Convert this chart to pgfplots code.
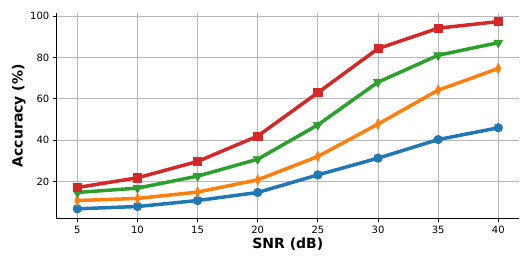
\documentclass[border=0pt]{standalone}
\usepackage{pgfplots}
\pgfplotsset{compat=1.18}
\usepackage{fontspec}
\setmainfont{DejaVu Sans}
\definecolor{tabblue}{HTML}{1F77B4}
\definecolor{taborange}{HTML}{FF7F0E}
\definecolor{tabgreen}{HTML}{2CA02C}
\definecolor{tabred}{HTML}{D62728}
\begin{document}
\begin{tikzpicture}[x=1pt,y=1pt]
\useasboundingbox (0,0) rectangle (532,266);
\begin{axis}[
  at={(56.3pt,47.3pt)}, anchor=south west,
  scale only axis, width=463pt, height=206pt,
  xmin=3.25, xmax=41.75, ymin=2, ymax=101.7,
  axis x line*=bottom, axis y line*=left,
  axis line style={line width=0.9pt, -},
  xtick={5,10,15,20,25,30,35,40},
  ytick={20,40,60,80,100},
  tick align=outside, major tick length=3.5pt,
  tick style={line width=0.9pt, black},
  grid=major,
  major grid style={color=black!28, line width=0.9pt},
  /pgf/number format/assume math mode=true,
  ticklabel style={font=\fontsize{10}{12}\selectfont},
  xlabel={SNR (dB)}, ylabel={Accuracy (\%)},
  label style={font=\fontsize{14}{16}\selectfont\bfseries},
  xlabel style={at={(axis description cs:0.5,0)}, anchor=north, yshift=-16pt},
  ylabel style={at={(axis description cs:0,0.5)}, anchor=south, yshift=27pt},
  every axis plot/.append style={line width=3.5pt, line join=round},
]
\addplot[color=tabblue, mark=*, mark size=4.3pt, mark options={line width=0.6pt}] coordinates {
(5,6.8) (10,7.9) (15,10.8) (20,14.7) (25,23.2) (30,31.3) (35,40.3) (40,46.0)};
\addplot[color=taborange, mark=diamond*, mark size=5.5pt, mark options={xscale=0.62, line width=0.6pt}] coordinates {
(5,10.8) (10,11.8) (15,14.9) (20,20.8) (25,32.1) (30,47.8) (35,64.2) (40,74.7)};
\addplot[color=tabgreen, mark=triangle*, mark size=5.2pt, mark options={rotate=180, line width=0.6pt}] coordinates {
(5,14.7) (10,16.8) (15,22.6) (20,30.8) (25,47.4) (30,68.1) (35,81.1) (40,87.2)};
\addplot[color=tabred, mark=square*, mark size=4.1pt, mark options={line width=0.6pt}] coordinates {
(5,17.1) (10,21.8) (15,29.7) (20,42.0) (25,63.0) (30,84.3) (35,94.2) (40,97.4)};
\end{axis}
\end{tikzpicture}
\end{document}
